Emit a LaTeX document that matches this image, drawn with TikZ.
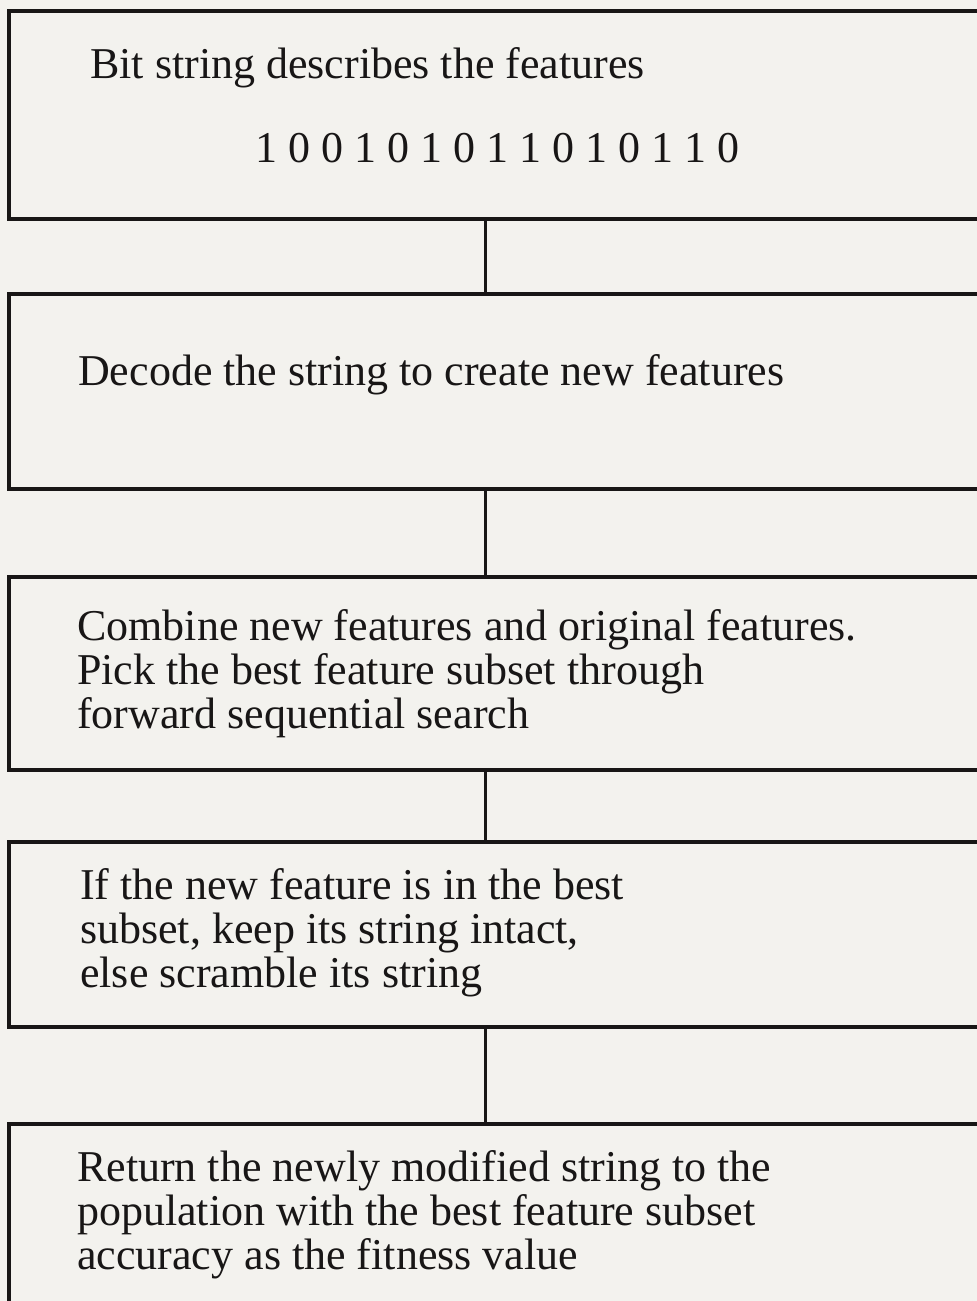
\documentclass[tikz,border=0pt]{standalone}
\usepackage{fontspec}
\setmainfont{Liberation Serif}
\definecolor{paper}{RGB}{243,242,238}
\definecolor{ink}{RGB}{24,22,22}

\begin{document}
\begin{tikzpicture}[x=1pt, y=-1pt,
  stage/.style={draw=ink, line width=4.2pt, rectangle, anchor=north west, minimum width=1000pt, inner sep=0pt},
  link/.style={draw=ink, line width=3pt},
  caption/.style={anchor=base west, inner sep=0pt, align=left, text=ink, font=\fontsize{44}{44}\selectfont}]

% Page
\useasboundingbox (0,0) rectangle (977,1301);
\fill[paper] (0,0) rectangle (977,1301);
\clip (0,0) rectangle (977,1301);

% Boxes
\node[stage, minimum height=208pt] (b1) at (7,9) {};
\node[stage, minimum height=195pt] (b2) at (7,292) {};
\node[stage, minimum height=193pt] (b3) at (7,575) {};
\node[stage, minimum height=185pt] (b4) at (7,840) {};
\node[stage, minimum height=198pt] (b5) at (7,1122) {};

% Links
\coordinate (spine) at (485,0);
\foreach \u/\l in {b1/b2, b2/b3, b3/b4, b4/b5}
  \draw[link] (\u.south -| spine) -- (\l.north -| spine);

% Texts (base = last line)
\node[caption] (t1) at (90,78) {Bit string describes the features};
\node[caption] (bits) at (255,162) {1 0 0 1 0 1 0 1 1 0 1 0 1 1 0};
\node[caption] (t2) at (78,385) {Decode the string to create new features};
\node[caption] (t3) at (77,728) {Combine new features and original features.\\
  Pick the best feature subset through\\
  forward sequential search};
\node[caption] (t4) at (80,987) {If the new feature is in the best\\
  subset, keep its string intact,\\
  else scramble its string};
\node[caption] (t5) at (77,1269) {Return the newly modified string to the\\
  population with the best feature subset\\
  accuracy as the fitness value};
\end{tikzpicture}
\end{document}
